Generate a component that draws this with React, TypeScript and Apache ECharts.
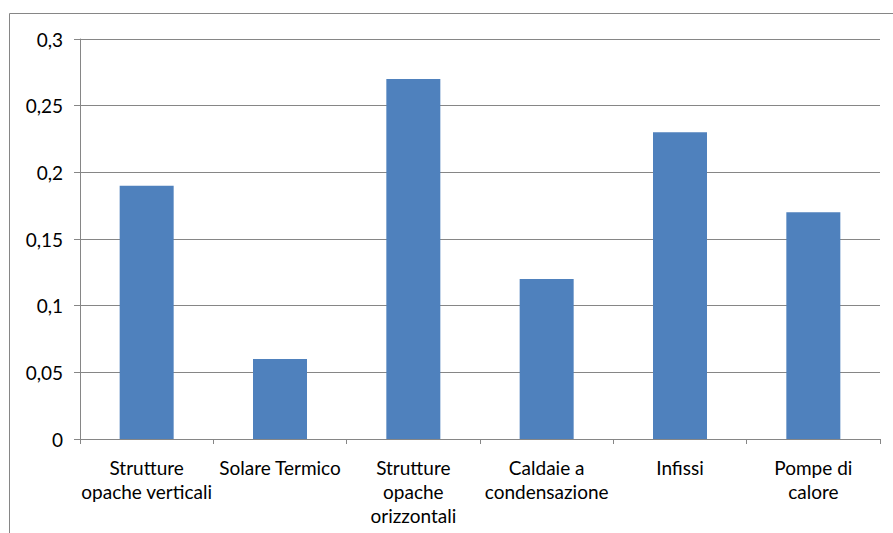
import React, { useEffect, useRef } from "react";
import * as echarts from "echarts";

const categories = [
  "Strutture\nopache verticali",
  "Solare Termico",
  "Strutture\nopache\norizzontali",
  "Caldaie a\ncondensazione",
  "Infissi",
  "Pompe di\ncalore",
];
const values = [0.19, 0.06, 0.27, 0.12, 0.23, 0.17];
const yMin = 0;
const yMax = 0.3;
const yInterval = 0.05;

export default function App() {
  const ref = useRef<HTMLDivElement>(null);
  useEffect(() => {
    if (!ref.current) return;
    const chart = echarts.init(ref.current, null, { renderer: "svg" });
    const font = "Lato, 'Open Sans', sans-serif";
    chart.setOption({
      animation: false,
      backgroundColor: "#ffffff",
      textStyle: { fontFamily: font },
      graphic: [
        {
          type: "rect",
          shape: { x: 9.5, y: 13.5, width: 900, height: 600 },
          style: { fill: "none", stroke: "#868686", lineWidth: 1 },
          silent: true,
          z: -1,
        },
      ],
      grid: { left: 80, right: 13, top: 39, bottom: 94, containLabel: false },
      xAxis: {
        type: "category",
        data: categories,
        boundaryGap: true,
        axisLine: { show: true, lineStyle: { color: "#868686", width: 1 } },
        axisTick: { show: true, alignWithLabel: false, length: 5, lineStyle: { color: "#868686" } },
        axisLabel: {
          interval: 0,
          color: "#000000",
          fontFamily: font,
          fontSize: 19,
          lineHeight: 24,
          margin: 16,
        },
        splitLine: { show: false },
      },
      yAxis: {
        type: "value",
        min: yMin,
        max: yMax,
        interval: yInterval,
        axisLine: { show: true, lineStyle: { color: "#868686", width: 1 } },
        axisTick: { show: true, length: 6, lineStyle: { color: "#868686" } },
        axisLabel: {
          color: "#000000",
          fontFamily: font,
          fontSize: 19,
          margin: 17,
          formatter: (v: number) => String(Math.round(v * 100) / 100).replace(".", ","),
        },
        splitLine: { show: true, lineStyle: { color: "#868686", width: 1 } },
      },
      series: [
        {
          type: "bar",
          data: values,
          barWidth: 54,
          itemStyle: { color: "#4F81BD" },
        },
      ],
    });
    return () => chart.dispose();
  }, []);
  return (
    <div
      ref={ref}
      style={{ position: "fixed", left: 0, top: 0, width: 893, height: 533, background: "#fff" }}
    />
  );
}
